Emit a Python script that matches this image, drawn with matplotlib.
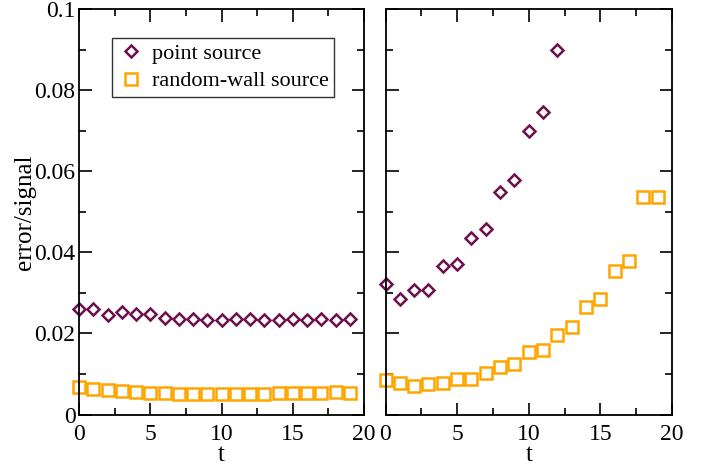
import matplotlib
matplotlib.use("Agg")
import matplotlib.pyplot as plt
from matplotlib.ticker import MultipleLocator, FuncFormatter

plt.rcParams['font.family'] = ['Liberation Serif', 'DejaVu Serif']

t = list(range(20))
point_left = [0.0259, 0.0260, 0.0245, 0.0253, 0.0249, 0.0249, 0.0239, 0.0235, 0.0235, 0.0233,
              0.0234, 0.0235, 0.0235, 0.0234, 0.0233, 0.0235, 0.0234, 0.0235, 0.0233, 0.0235]
wall_left = [0.0068, 0.0064, 0.0060, 0.0058, 0.0055, 0.0054, 0.0052, 0.0051, 0.0050, 0.0050,
             0.0050, 0.0050, 0.0051, 0.0051, 0.0052, 0.0052, 0.0053, 0.0053, 0.0055, 0.0054]
t_point_right = list(range(13))
point_right = [0.0321, 0.0285, 0.0308, 0.0307, 0.0365, 0.0372, 0.0435, 0.0457, 0.0549, 0.0579,
               0.0698, 0.0746, 0.0900]
wall_right = [0.0085, 0.0078, 0.0071, 0.0075, 0.0078, 0.0088, 0.0088, 0.0102, 0.0117, 0.0125,
              0.0153, 0.0159, 0.0196, 0.0216, 0.0265, 0.0284, 0.0353, 0.0378, 0.0537, 0.0536]

purple = '#6e0f4e'
orange = '#ffa500'

fig = plt.figure(figsize=(7.2, 4.65), dpi=100)
axL = fig.add_axes([79/720, 1-414.5/465, (364-79)/720, 405.5/465])
axR = fig.add_axes([385.5/720, 1-414.5/465, (672-385.5)/720, 405.5/465])

for ax in (axL, axR):
    ax.set_xlim(0, 20)
    ax.set_ylim(0, 0.1)
    ax.xaxis.set_major_locator(MultipleLocator(5))
    ax.xaxis.set_minor_locator(MultipleLocator(2.5))
    ax.yaxis.set_major_locator(MultipleLocator(0.02))
    ax.yaxis.set_minor_locator(MultipleLocator(0.01))
    ax.tick_params(which='both', direction='in', top=True, right=True, width=1.2)
    ax.tick_params(which='major', length=9, labelsize=17)
    ax.tick_params(axis='x', which='major', pad=7)
    ax.tick_params(axis='y', which='major', pad=2.5)
    ax.tick_params(which='minor', length=5)
    for s in ax.spines.values():
        s.set_linewidth(1.3)
    ax.set_xlabel('t', fontsize=18, labelpad=-1)

axL.yaxis.set_major_formatter(FuncFormatter(lambda v, p: '0' if abs(v) < 1e-12 else f'{v:g}'))
axR.tick_params(axis='y', labelleft=False)

dkw = dict(marker='D', ms=6.0, mfc='none', mew=1.8, ls='none', clip_on=False)
skw = dict(marker='s', ms=8.0, mfc='none', mew=1.8, ls='none', clip_on=False)

axL.plot(t, point_left, color=purple, label='point source', **dkw)
axL.plot(t, wall_left, color=orange, label='random-wall source', **skw)
axR.plot(t_point_right, point_right, color=purple, **dkw)
axR.plot(t, wall_right, color=orange, **skw)

axL.set_ylabel('error/signal', fontsize=18, labelpad=-1)

leg = axL.legend(loc='upper left', bbox_to_anchor=(112/720, 1-38/465), bbox_transform=fig.transFigure,
                 fontsize=16, frameon=True, fancybox=False, edgecolor='black',
                 handletextpad=0.35, handlelength=1.2, borderpad=0.25, labelspacing=0.3,
                 borderaxespad=0)
leg.get_frame().set_linewidth(1.0)

fig.savefig('out.png', dpi=100)
